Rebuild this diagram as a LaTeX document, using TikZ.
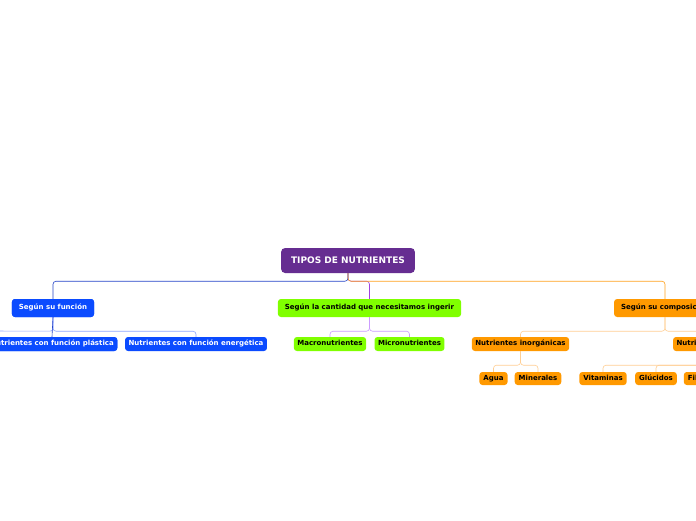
\documentclass[tikz,border=0pt]{standalone}
\usepackage{fontspec}
\setmainfont{DejaVu Sans}
\usepackage{xcolor}
\usepackage{tikz}
\usetikzlibrary{positioning}

\definecolor{rootpurple}{HTML}{662D91}
\definecolor{mapblue}{HTML}{0B4BFF}
\definecolor{mapgreen}{HTML}{80FF00}
\definecolor{maporange}{HTML}{FF9900}
\definecolor{linkblue}{HTML}{2545C8}
\definecolor{linkblue2}{HTML}{8EA6FF}
\definecolor{linkpurple}{HTML}{A040E0}
\definecolor{linkpurple2}{HTML}{CC9CFF}
\definecolor{linkorange}{HTML}{FFA21F}
\definecolor{linkorange2}{HTML}{FFCF94}

\tikzset{
  tema/.style={rounded corners=3pt, inner ysep=0pt,
    font=\bfseries\fontsize{7}{8}\selectfont, text height=5.1pt, text depth=1.4pt},
  raiz/.style={tema, fill=rootpurple, text=white, rounded corners=4pt,
    font=\bfseries\fontsize{9}{10}\selectfont, text height=6.6pt, text depth=0pt,
    minimum height=25pt, inner xsep=10pt},
  nivel1/.style={tema, minimum height=18pt, inner xsep=7pt},
  nivel2/.style={tema, minimum height=14pt, inner xsep=3.5pt},
  nivel3/.style={tema, minimum height=13pt, inner xsep=4pt},
  link/.style={line width=0.6pt, rounded corners=3pt}
}

\begin{document}
\begin{tikzpicture}[x=1pt,y=-1pt]

		% Frame of the visible part
		\useasboundingbox (0,0) rectangle (696,520);
		\clip (0,0) rectangle (696,520);
		\fill[white] (0,0) rectangle (696,520);

		% Central topic
		\node[raiz] (root) at (348,260.5) {TIPOS DE NUTRIENTES};

		% First level
		\node[nivel1, fill=mapblue, text=white] (funcion) at (53,308) {Según su función};
		\node[nivel1, fill=mapgreen] (cantidad) at (369.5,308) {Según la cantidad que necesitamos ingerir};
		\node[nivel1, fill=maporange] (composicion) at (665,308) {Según su composición};

		% Second level
		\node[nivel2, fill=mapblue, text=white] (plastica) at (52,344) {Nutrientes con función plástica};
		\node[nivel2, fill=mapblue, text=white] (energetica) at (196,344) {Nutrientes con función energética};
		\node[nivel2, fill=mapgreen] (macro) at (330,344) {Macronutrientes};
		\node[nivel2, fill=mapgreen] (micro) at (409.5,344) {Micronutrientes};
		\node[nivel2, fill=maporange] (inorganicas) at (520.5,344) {Nutrientes inorgánicas};
		\node[nivel2, fill=maporange] (organicas) at (718,344) {Nutrientes orgánicas};

		% Third level
		\node[nivel3, fill=maporange] (agua) at (493.5,378.5) {Agua};
		\node[nivel3, fill=maporange] (minerales) at (538,378.5) {Minerales};
		\node[nivel3, fill=maporange] (vitaminas) at (603,378.5) {Vitaminas};
		\node[nivel3, fill=maporange] (glucidos) at (656,378.5) {Glúcidos};
		\node[nivel3, fill=maporange] (fibra) at (698,378.5) {Fibra};

		% Free end of the blue branch (runs out of the frame)
		\coordinate (fueraizq) at (-10,331);

		% Links from the central topic
		\draw[link, linkpurple] (root.south) -- ++(0,8) -| (cantidad.north);
		\draw[link, linkblue] (root.south) -- ++(0,8) -| (funcion.north);
		\draw[link, linkorange] (root.south) -- ++(0,8) -| (composicion.north);

		% Links to the second level
		\draw[link, linkblue2] (funcion.south) -- ++(0,14) -| (energetica.north);
		\draw[link, linkblue2] (funcion.south) -- ++(0,14) -- (fueraizq);
		\draw[link, linkblue] (funcion.south) -- (plastica.north);
		\draw[link, linkpurple2] (cantidad.south) -- ++(0,14) -| (macro.north);
		\draw[link, linkpurple2] (cantidad.south) -- ++(0,14) -| (micro.north);
		\draw[link, linkorange2] (composicion.south) -- ++(0,14) -| (inorganicas.north);
		\draw[link, linkorange2] (composicion.south) -- ++(0,14) -| (organicas.north);

		% Links to the third level
		\draw[link, linkorange2] (inorganicas.south) -- ++(0,14) -| (agua.north);
		\draw[link, linkorange2] (inorganicas.south) -- ++(0,14) -| (minerales.north);
		\draw[link, linkorange2] (organicas.south) -- ++(0,14) -| (vitaminas.north);
		\draw[link, linkorange2] (organicas.south) -- ++(0,14) -| (glucidos.north);
		\draw[link, linkorange2] (organicas.south) -- ++(0,14) -| (fibra.north);

		% Redraw the boxes over the links
		\node[nivel1, fill=mapblue, text=white] at (funcion) {Según su función};
		\node[nivel2, fill=mapblue, text=white] at (plastica) {Nutrientes con función plástica};

	\end{tikzpicture}
\end{document}
